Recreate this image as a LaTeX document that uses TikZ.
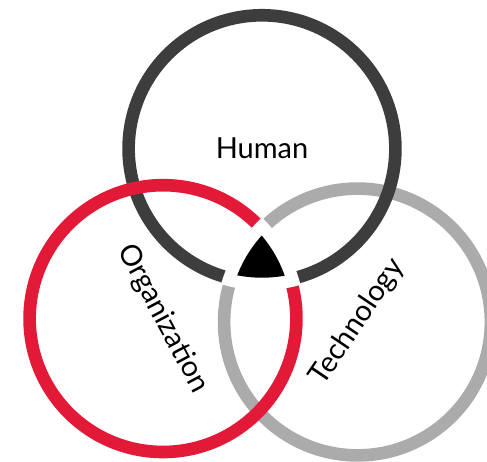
\documentclass[tikz,border=0pt]{standalone}
\usepackage{fontspec}
\setmainfont{Lato}

\definecolor{humangray}{HTML}{3D3D3D}
\definecolor{orgred}{HTML}{E21A38}
\definecolor{techgray}{HTML}{ABABAB}

\begin{document}
\begin{tikzpicture}[x=0.02cm, y=0.02cm]

\tikzstyle{ring} = [line width=7.2pt]
\tikzstyle{ringlabel} = [anchor=center, inner sep=0pt, font=\fontsize{16.5}{19}\selectfont]

\useasboundingbox (0,0) rectangle (487,462);

% centres of the three rings
\coordinate (hum) at (262,313.3);
\coordinate (org) at (163,143.4);
\coordinate (tec) at (357.5,140);

\draw[ring, techgray] (tec) circle (133.4);
\draw[ring, humangray] (hum) circle (133.4);
\draw[ring, orgred] (org) circle (133.4);

% cut the rings where all three overlap
\begin{scope}
  \clip (hum) circle (141.5);
  \clip (org) circle (141.5);
  \fill[white] (tec) circle (141.5);
\end{scope}

% black core
\begin{scope}
  \clip (hum) circle (129);
  \clip (org) circle (129);
  \fill[black] (tec) circle (129);
\end{scope}

\node[ringlabel] (human) at (hum) {Human};
\node[ringlabel, rotate=-62] (organization) at (org) {Organization};
\node[ringlabel, rotate=56] (technology) at (tec) {Technology};

\end{tikzpicture}
\end{document}
